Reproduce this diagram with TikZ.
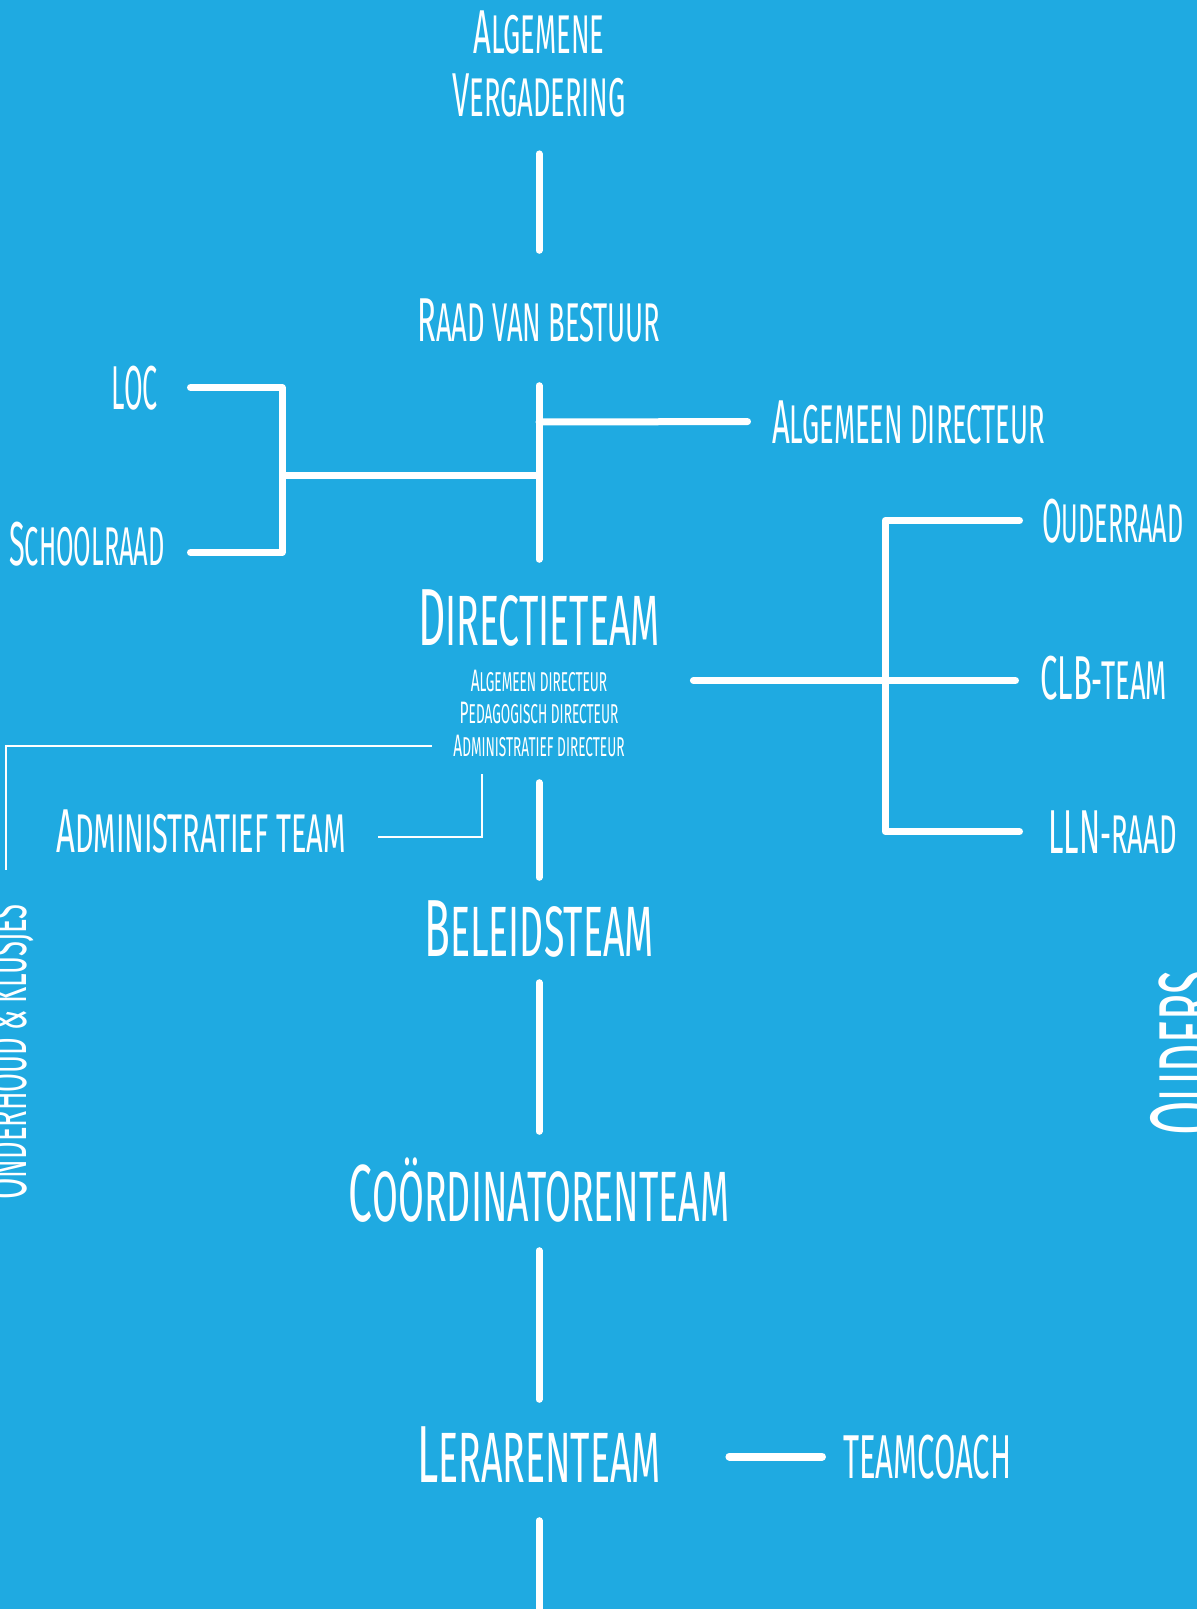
\documentclass[tikz,border=0pt]{standalone}
\usepackage{fontspec}
\usepackage{graphicx}
\usepackage{tikz}

\newfontfamily\hand{Fira Sans}[FakeStretch=0.5]
\newfontfamily\handbreed{Fira Sans}[FakeStretch=0.525]
\newcommand{\kap}[2]{#1\scalebox{0.88}{\MakeUppercase{#2}}}
\definecolor{zee}{RGB}{31,170,225}

\tikzset{
  lbl/.style={text=white, inner sep=0pt},
  kop/.style={lbl, font=\handbreed\fontsize{81}{85}\selectfont, text height=56pt, text depth=0pt},
  tekst/.style={lbl, font=\hand\fontsize{62}{63}\selectfont, text height=43pt, text depth=0pt},
  klein/.style={lbl, font=\hand\fontsize{31}{33}\selectfont, text height=21pt, text depth=0pt},
  balk/.style={draw=white, line width=7pt, line cap=round, line join=round},
  draad/.style={draw=white, line width=2pt}
}

\begin{document}
\begin{tikzpicture}[x=1pt, y=-1pt]
      \useasboundingbox (0,0) rectangle (1197,1609);
      \fill [zee] (0,0) rectangle (1197,1609);
      \clip (0,0) rectangle (1197,1609);

      \node (av) [lbl, font=\hand\fontsize{62}{63}\selectfont, align=center] at (539,64) {\kap{A}{lgemene}\\\kap{V}{ergadering}};
      \node (rvb) [tekst, anchor=base] at (539,341) {\kap{R}{aad van bestuur}};
      \node (dir) [kop, anchor=base] at (539,645) {\kap{D}{irectieteam}};
      \node (ld1) [klein, anchor=base] at (539,691) {\kap{A}{lgemeen directeur}};
      \node (ld2) [klein, anchor=base] at (539,723) {\kap{P}{edagogisch directeur}};
      \node (ld3) [klein, anchor=base] at (539,756) {\kap{A}{dministratief directeur}};
      \node (bel) [kop, anchor=base] at (539,956) {\kap{B}{eleidsteam}};
      \node (coo) [kop, anchor=base] at (539,1221) {\kap{C}{oördinatorenteam}};
      \node (ler) [kop, anchor=base] at (539,1482) {\kap{L}{erarenteam}};
      \coordinate (eind) at (539,1640);

      \node (adir) [tekst, anchor=base west] at (772,443) {\kap{A}{lgemeen directeur}};
      \node (loc) [tekst, anchor=base east, xscale=0.87] at (158,409) {LOC};
      \node (sr) [tekst, anchor=base east, xscale=0.93] at (165,565) {\kap{S}{choolraad}};
      \node (oud) [tekst, anchor=base west, xscale=0.92] at (1042,542) {\kap{O}{uderraad}};
      \node (clb) [tekst, anchor=base west] at (1040,699) {\kap{CLB}{-team}};
      \node (lln) [tekst, anchor=base west] at (1048,853) {\kap{LLN}{-raad}};
      \node (adt) [tekst, anchor=base east, xscale=1.06] at (346,852) {\kap{A}{dministratief team}};
      \node (tc) [tekst, anchor=base west] at (843,1478) {\MakeUppercase{teamcoach}};
      \node (ok) [tekst, rotate=90, anchor=base] at (27,1052) {\kap{O}{nderhoud \& klusjes}};
      \node (ouders) [lbl, font=\hand\fontsize{100}{100}\selectfont, text height=69pt, rotate=90, anchor=north] at (1151,1053) {\kap{O}{uders}};

      \coordinate (t1) at (539,422);
      \coordinate (t2) at (539,475);
      \coordinate (vork) at (282,475);
      \coordinate (klem) at (885,681);
      \coordinate (adk) at (482,774);

      \draw [balk, shorten <=36.5pt, shorten >=47.5pt] (av.south) -- (rvb.north);
      \draw [balk, shorten <=44.5pt, shorten >=29.5pt] (rvb.south) -- (dir.north);
      \draw [balk, shorten <=26.5pt, shorten >=22.5pt] (ld3.south) -- (bel.north);
      \draw [balk, shorten <=26.5pt, shorten >=33.5pt] (bel.south) -- (coo.north);
      \draw [balk, shorten <=29.5pt, shorten >=26.5pt] (coo.south) -- (ler.north);
      \draw [balk, shorten <=38.5pt] (ler.south) -- (eind);

      \draw [balk, shorten >=24.5pt] (t1) -- (adir.west);
      \draw [balk, shorten >=32.5pt] (t2) -- (vork) |- (loc.east);
      \draw [balk, shorten >=25.5pt] (vork) |- ([yshift=-9pt]sr.east);
      \draw [balk, shorten <=86pt, shorten >=24.5pt] (ld1.east) -- (ld1.east -| clb.west);
      \draw [balk] ([xshift=-22.5pt]oud.west) -| (klem) |- ([xshift=-28.5pt]lln.west);
      \draw [balk, line width=8pt, shorten <=68.5pt, shorten >=21pt] (tc.west -| ler.east) -- (tc.west);
      \draw [draad, shorten <=21pt, shorten >=34pt] (ld3.west) -| (ok.east);
      \draw [draad, shorten >=32pt] (adk) |- ([yshift=-6pt]adt.east);
\end{tikzpicture}
\end{document}
